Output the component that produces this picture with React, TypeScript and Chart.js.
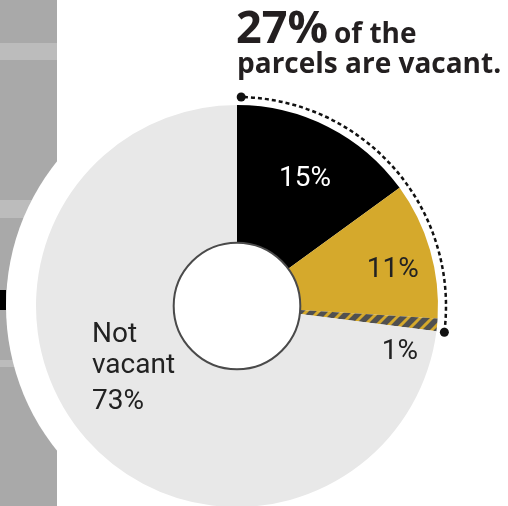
import React, { useEffect, useRef } from "react";
import { Chart, registerables } from "chart.js";

Chart.register(...registerables);

// ---- data ----
const categories = ["Vacant A", "Vacant B", "Vacant C", "Not vacant"];
const values = [15, 11, 1, 73];
const sliceLabels = ["15%", "11%", "1%", "Not\nvacant\n73%"];
const headlineBig = "27%";
const headlineSmall = "of the";
const headlineLine2 = "parcels are vacant.";

const GOLD = "#d5a92c";
const HATCH_DARK = "#505050";

function makeHatch(): CanvasPattern | string {
  const n = 12;
  const c = document.createElement("canvas");
  c.width = n;
  c.height = n;
  const g = c.getContext("2d");
  if (!g) return HATCH_DARK;
  g.fillStyle = GOLD;
  g.fillRect(0, 0, n, n);
  g.strokeStyle = HATCH_DARK;
  g.lineWidth = 5.5;
  const segs = [
    [-n / 2, n / 2, n / 2, -n / 2],
    [0, n, n, 0],
    [n / 2, n * 1.5, n * 1.5, n / 2],
  ];
  for (const [a, b, cc, d] of segs) {
    g.beginPath();
    g.moveTo(a, b);
    g.lineTo(cc, d);
    g.stroke();
  }
  const p = g.createPattern(c, "repeat");
  return p || HATCH_DARK;
}

const decorPlugin = {
  id: "decor",
  beforeDatasetsDraw(chart: any) {
    const ctx = chart.ctx as CanvasRenderingContext2D;
    const meta = chart.getDatasetMeta(0);
    const arc = meta.data[0];
    if (!arc) return;
    const { x, y, outerRadius } = arc.getProps(["x", "y", "outerRadius"], true);
    ctx.save();
    // left gray strip
    ctx.fillStyle = "#a9a9a9";
    ctx.fillRect(0, 0, 57, chart.height);
    ctx.fillStyle = "#bcbcbc";
    ctx.fillRect(0, 43, 57, 17);
    ctx.fillRect(0, 200, 57, 18);
    ctx.fillRect(0, 360, 57, 7);
    ctx.fillStyle = "#000";
    ctx.fillRect(0, 290, 6, 20);
    // white disc behind the donut
    ctx.fillStyle = "#ffffff";
    ctx.beginPath();
    ctx.arc(x, y, outerRadius + 30, 0, Math.PI * 2);
    ctx.fill();
    ctx.restore();
  },
  afterDatasetsDraw(chart: any) {
    const ctx = chart.ctx as CanvasRenderingContext2D;
    const meta = chart.getDatasetMeta(0);
    const arcs = meta.data.map((a: any) =>
      a.getProps(["x", "y", "startAngle", "endAngle", "innerRadius", "outerRadius"], true)
    );
    if (!arcs.length) return;
    const { x, y, innerRadius, outerRadius } = arcs[0];
    ctx.save();
    // hole
    ctx.fillStyle = "#ffffff";
    ctx.strokeStyle = "#4a4a4a";
    ctx.lineWidth = 2;
    ctx.beginPath();
    ctx.arc(x, y, innerRadius, 0, Math.PI * 2);
    ctx.fill();
    ctx.stroke();

    // dotted bracket around vacant slices
    const a0 = arcs[0].startAngle;
    const a1 = arcs[2].endAngle;
    const rr = outerRadius + 8;
    ctx.strokeStyle = "#111";
    ctx.lineWidth = 2.5;
    ctx.setLineDash([4, 3]);
    ctx.beginPath();
    ctx.arc(x, y, rr, a0, a1);
    ctx.stroke();
    ctx.setLineDash([]);
    ctx.fillStyle = "#111";
    for (const a of [a0 + 0.02, a1]) {
      ctx.beginPath();
      ctx.arc(x + rr * Math.cos(a), y + rr * Math.sin(a), 4.5, 0, Math.PI * 2);
      ctx.fill();
    }

    // slice labels
    const specs = [
      { shift: 1, r: 145, color: "#ffffff" },
      { shift: 3, r: 160, color: "#222222" },
      { shift: 10, r: 169, color: "#222222" },
    ];
    ctx.font = "28px Roboto";
    ctx.textAlign = "center";
    ctx.textBaseline = "middle";
    specs.forEach((s, i) => {
      const a = arcs[i];
      const mid = (a.startAngle + a.endAngle) / 2 + (s.shift * Math.PI) / 180;
      ctx.fillStyle = s.color;
      ctx.fillText(sliceLabels[i], x + s.r * Math.cos(mid), y + s.r * Math.sin(mid) + 1);
    });
    // not vacant block
    ctx.textAlign = "left";
    ctx.textBaseline = "alphabetic";
    ctx.fillStyle = "#222222";
    const lines = sliceLabels[3].split("\n");
    const baselines = [36, 67, 103];
    lines.forEach((ln, i) => {
      ctx.fillText(ln, x - 145, y + baselines[i]);
    });

    // headline
    ctx.fillStyle = "#231f20";
    ctx.font = "bold 45px 'Open Sans'";
    ctx.fillText(headlineBig, 236, 43);
    const w = ctx.measureText(headlineBig).width;
    ctx.font = "bold 28px 'Open Sans'";
    ctx.fillText(headlineSmall, 236 + w + 6, 43);
    ctx.fillText(headlineLine2, 237, 73);
    ctx.restore();
  },
};

export default function App() {
  const ref = useRef<HTMLCanvasElement | null>(null);
  useEffect(() => {
    if (!ref.current) return;
    const hatch = makeHatch();
    const chart = new Chart(ref.current, {
      type: "doughnut",
      data: {
        labels: categories,
        datasets: [
          {
            data: values,
            backgroundColor: ["#000000", GOLD, hatch as any, "#e8e8e8"],
            borderWidth: 0,
            hoverOffset: 0,
          },
        ],
      },
      options: {
        responsive: false,
        animation: false,
        cutout: 63,
        radius: 201,
        layout: { padding: { left: 0, right: 34, top: 106, bottom: 0 } },
        plugins: {
          legend: { display: false },
          tooltip: { enabled: false },
        },
        events: [],
      },
      plugins: [decorPlugin],
    });
    return () => chart.destroy();
  }, []);
  return (
    <div style={{ position: "fixed", left: 0, top: 0, width: 508, height: 506, background: "#fff" }}>
      <canvas ref={ref} width={508} height={506} style={{ width: 508, height: 506, display: "block" }} />
    </div>
  );
}
